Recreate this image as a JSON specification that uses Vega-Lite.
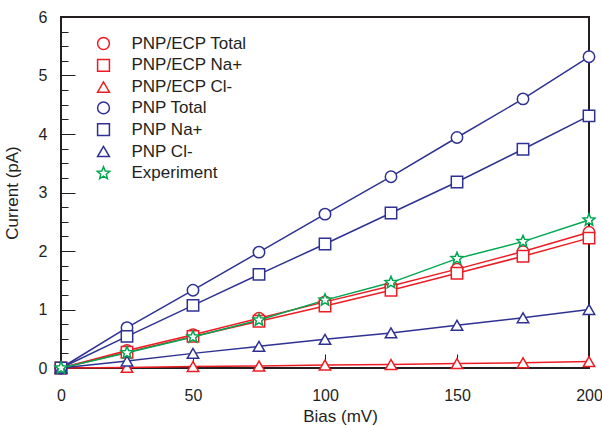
{
  "$schema": "https://vega.github.io/schema/vega-lite/v6.json",
  "width": 528,
  "height": 351,
  "autosize": {"type": "none"},
  "padding": {"left": 61, "top": 17, "right": 13, "bottom": 57},
  "background": "white",
  "config": {
    "view": {"stroke": "#231f20", "strokeWidth": 2},
    "font": "Liberation Sans",
    "legend": {
      "title": null, "orient": "top-left", "offset": 18, "padding": 0,
      "symbolSize": 140, "symbolStrokeWidth": 1.5, "symbolFillColor": "white",
      "symbolOffset": 16, "labelOffset": 19.5, "rowPadding": 2.8,
      "labelFontSize": 17, "labelFont": "Liberation Sans", "labelColor": "#231f20", "labelLimit": 300
    }
  },
  "data": {"values": [
    {"series": "PNP/ECP Total", "bias": 0, "current": 0},
    {"series": "PNP/ECP Total", "bias": 25, "current": 0.30},
    {"series": "PNP/ECP Total", "bias": 50, "current": 0.57},
    {"series": "PNP/ECP Total", "bias": 75, "current": 0.85},
    {"series": "PNP/ECP Total", "bias": 100, "current": 1.13},
    {"series": "PNP/ECP Total", "bias": 125, "current": 1.40},
    {"series": "PNP/ECP Total", "bias": 150, "current": 1.69},
    {"series": "PNP/ECP Total", "bias": 175, "current": 1.99},
    {"series": "PNP/ECP Total", "bias": 200, "current": 2.32},
    {"series": "PNP/ECP Na+", "bias": 0, "current": 0},
    {"series": "PNP/ECP Na+", "bias": 25, "current": 0.27},
    {"series": "PNP/ECP Na+", "bias": 50, "current": 0.54},
    {"series": "PNP/ECP Na+", "bias": 75, "current": 0.80},
    {"series": "PNP/ECP Na+", "bias": 100, "current": 1.06},
    {"series": "PNP/ECP Na+", "bias": 125, "current": 1.33},
    {"series": "PNP/ECP Na+", "bias": 150, "current": 1.62},
    {"series": "PNP/ECP Na+", "bias": 175, "current": 1.91},
    {"series": "PNP/ECP Na+", "bias": 200, "current": 2.22},
    {"series": "PNP/ECP Cl-", "bias": 0, "current": 0},
    {"series": "PNP/ECP Cl-", "bias": 25, "current": 0.01},
    {"series": "PNP/ECP Cl-", "bias": 50, "current": 0.025},
    {"series": "PNP/ECP Cl-", "bias": 75, "current": 0.035},
    {"series": "PNP/ECP Cl-", "bias": 100, "current": 0.05},
    {"series": "PNP/ECP Cl-", "bias": 125, "current": 0.06},
    {"series": "PNP/ECP Cl-", "bias": 150, "current": 0.075},
    {"series": "PNP/ECP Cl-", "bias": 175, "current": 0.09},
    {"series": "PNP/ECP Cl-", "bias": 200, "current": 0.11},
    {"series": "PNP Total", "bias": 0, "current": 0},
    {"series": "PNP Total", "bias": 25, "current": 0.69},
    {"series": "PNP Total", "bias": 50, "current": 1.33},
    {"series": "PNP Total", "bias": 75, "current": 1.98},
    {"series": "PNP Total", "bias": 100, "current": 2.63},
    {"series": "PNP Total", "bias": 125, "current": 3.27},
    {"series": "PNP Total", "bias": 150, "current": 3.94},
    {"series": "PNP Total", "bias": 175, "current": 4.60},
    {"series": "PNP Total", "bias": 200, "current": 5.32},
    {"series": "PNP Na+", "bias": 0, "current": 0},
    {"series": "PNP Na+", "bias": 25, "current": 0.54},
    {"series": "PNP Na+", "bias": 50, "current": 1.07},
    {"series": "PNP Na+", "bias": 75, "current": 1.60},
    {"series": "PNP Na+", "bias": 100, "current": 2.12},
    {"series": "PNP Na+", "bias": 125, "current": 2.65},
    {"series": "PNP Na+", "bias": 150, "current": 3.18},
    {"series": "PNP Na+", "bias": 175, "current": 3.74},
    {"series": "PNP Na+", "bias": 200, "current": 4.31},
    {"series": "PNP Cl-", "bias": 0, "current": 0},
    {"series": "PNP Cl-", "bias": 25, "current": 0.12},
    {"series": "PNP Cl-", "bias": 50, "current": 0.25},
    {"series": "PNP Cl-", "bias": 75, "current": 0.37},
    {"series": "PNP Cl-", "bias": 100, "current": 0.49},
    {"series": "PNP Cl-", "bias": 125, "current": 0.60},
    {"series": "PNP Cl-", "bias": 150, "current": 0.73},
    {"series": "PNP Cl-", "bias": 175, "current": 0.86},
    {"series": "PNP Cl-", "bias": 200, "current": 1.00},
    {"series": "Experiment", "bias": 0, "current": 0},
    {"series": "Experiment", "bias": 25, "current": 0.26},
    {"series": "Experiment", "bias": 50, "current": 0.53},
    {"series": "Experiment", "bias": 75, "current": 0.82},
    {"series": "Experiment", "bias": 100, "current": 1.16},
    {"series": "Experiment", "bias": 125, "current": 1.46},
    {"series": "Experiment", "bias": 150, "current": 1.87},
    {"series": "Experiment", "bias": 175, "current": 2.16},
    {"series": "Experiment", "bias": 200, "current": 2.53}
  ]},
  "encoding": {
    "x": {
      "field": "bias", "type": "quantitative",
      "scale": {"domain": [0, 200], "nice": false, "zero": false},
      "axis": {
        "title": "Bias (mV)", "values": [0, 50, 100, 150, 200],
        "domain": false, "grid": false, "tickSize": -14, "tickColor": "#231f20", "tickWidth": 1,
        "labelPadding": 33, "labelFontSize": 16, "labelColor": "#231f20", "labelFont": "Liberation Sans",
        "labelFlush": false, "labelOverlap": false,
        "titleFontSize": 17, "titleFontWeight": "normal", "titleColor": "#231f20", "titleFont": "Liberation Sans",
        "titleX": 279, "titleY": 53, "titleBaseline": "alphabetic", "titleAlign": "center"
      }
    }
  },
  "resolve": {"axis": {"y": "independent"}},
  "layer": [
    {
      "mark": {"type": "line", "strokeWidth": 1.5, "clip": false},
      "encoding": {
        "y": {
          "field": "current", "type": "quantitative",
          "scale": {"domain": [0, 6], "nice": false},
          "axis": {
            "orient": "left", "title": null, "labels": false,
            "values": [0.25, 0.5, 0.75, 1.25, 1.5, 1.75, 2.25, 2.5, 2.75, 3.25, 3.5, 3.75, 4.25, 4.5, 4.75, 5.25, 5.5, 5.75],
            "tickSize": -7, "domain": false, "grid": false, "tickColor": "#231f20", "tickWidth": 1
          }
        },
        "stroke": {
          "field": "series", "type": "nominal",
          "scale": {
            "domain": ["PNP/ECP Total", "PNP/ECP Na+", "PNP/ECP Cl-", "PNP Total", "PNP Na+", "PNP Cl-", "Experiment"],
            "range": ["#ed1c24", "#ed1c24", "#ed1c24", "#2e3192", "#2e3192", "#2e3192", "#00a651"]
          }
        }
      }
    },
    {
      "mark": {"type": "point", "filled": false, "fill": "white", "fillOpacity": 1, "opacity": 1, "size": 130, "strokeWidth": 1.5, "clip": false},
      "encoding": {
        "y": {
          "field": "current", "type": "quantitative",
          "scale": {"domain": [0, 6], "nice": false},
          "axis": {
            "orient": "left", "title": "Current (pA)", "format": "d",
            "values": [0, 1, 2, 3, 4, 5, 6],
            "tickSize": -14, "domain": false, "grid": false, "tickColor": "#231f20", "tickWidth": 1,
            "labelPadding": 28, "labelFontSize": 16, "labelColor": "#231f20", "labelFont": "Liberation Sans",
            "labelFlush": false, "labelOverlap": false,
            "titleFontSize": 17, "titleFontWeight": "normal", "titleColor": "#231f20", "titleFont": "Liberation Sans",
            "titlePadding": 17
          }
        },
        "stroke": {
          "field": "series", "type": "nominal",
          "scale": {
            "domain": ["PNP/ECP Total", "PNP/ECP Na+", "PNP/ECP Cl-", "PNP Total", "PNP Na+", "PNP Cl-", "Experiment"],
            "range": ["#ed1c24", "#ed1c24", "#ed1c24", "#2e3192", "#2e3192", "#2e3192", "#00a651"]
          }
        },
        "shape": {
          "field": "series", "type": "nominal",
          "scale": {
            "domain": ["PNP/ECP Total", "PNP/ECP Na+", "PNP/ECP Cl-", "PNP Total", "PNP Na+", "PNP Cl-", "Experiment"],
            "range": ["circle", "square", "triangle-up", "circle", "square", "triangle-up", "M0,-1.1L0.29,-0.4L1.046,-0.34L0.471,0.153L0.647,0.89L0,0.495L-0.647,0.89L-0.471,0.153L-1.046,-0.34L-0.29,-0.4Z"]
          }
        }
      }
    }
  ]
}
